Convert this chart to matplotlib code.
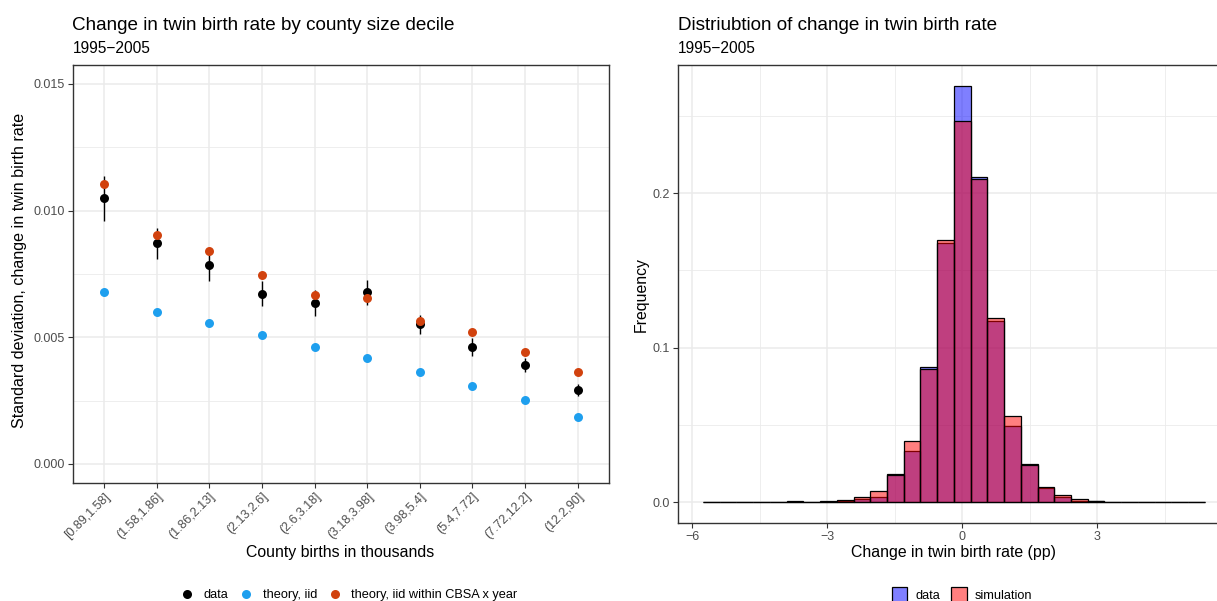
import numpy as np
import matplotlib
matplotlib.use('Agg')
import matplotlib.pyplot as plt
from matplotlib.lines import Line2D
from matplotlib.patches import Patch
from matplotlib.ticker import MultipleLocator

plt.rcParams['font.family'] = ['Liberation Sans', 'DejaVu Sans']

# left panel: sd of change in twin birth rate by county size decile
deciles = ['[0.89,1.58]', '(1.58,1.86]', '(1.86,2.13]', '(2.13,2.6]', '(2.6,3.18]',
           '(3.18,3.98]', '(3.98,5.4]', '(5.4,7.72]', '(7.72,12.2]', '(12.2,90]']
sd_data = [0.01050, 0.00872, 0.00784, 0.00672, 0.00637, 0.00677, 0.00552, 0.00460, 0.00392, 0.00292]
sd_lo = [0.00961, 0.00811, 0.00723, 0.00622, 0.00585, 0.00626, 0.00513, 0.00425, 0.00365, 0.00267]
sd_hi = [0.01135, 0.00931, 0.00845, 0.00723, 0.00688, 0.00725, 0.00589, 0.00497, 0.00418, 0.00317]
sd_iid = [0.00677, 0.00600, 0.00558, 0.00511, 0.00463, 0.00417, 0.00365, 0.00308, 0.00254, 0.00185]
sd_cbsa = [0.01105, 0.00902, 0.00842, 0.00747, 0.00668, 0.00656, 0.00563, 0.00522, 0.00443, 0.00363]

# right panel: histogram of change in twin birth rate (pp), 30 bins
bin_width = 0.3717
bin_index = np.arange(-15, 15)
freq_data = [0.0001, 0.0001, 0.0001, 0.0002, 0.0002, 0.0006, 0.0001, 0.0006, 0.0008, 0.0021,
             0.0034, 0.0181, 0.0332, 0.0877, 0.1675, 0.2694, 0.2105, 0.1175, 0.0496, 0.0246,
             0.0096, 0.0032, 0.0011, 0.0009, 0.0003, 0.0002, 0.0002, 0.0001, 0.0001, 0.0001]
freq_sim = [0.0000, 0.0000, 0.0000, 0.0001, 0.0001, 0.0000, 0.0002, 0.0003, 0.0013, 0.0032,
            0.0074, 0.0180, 0.0397, 0.0864, 0.1700, 0.2465, 0.2092, 0.1190, 0.0556, 0.0242,
            0.0101, 0.0045, 0.0019, 0.0006, 0.0002, 0.0001, 0.0001, 0.0001, 0.0000, 0.0000]

BORDER = '#333333'
GRID = '#EBEBEB'
TICKTXT = '#4D4D4D'
BLUE = '#1E9FEE'
RED = '#D1420E'

W, H = 1217, 601
fig = plt.figure(figsize=(W / 100, H / 100), dpi=100)


def style(ax):
    ax.set_axisbelow(True)
    ax.grid(which='major', color=GRID, lw=1.1)
    ax.grid(which='minor', color=GRID, lw=0.6)
    for s in ax.spines.values():
        s.set_color(BORDER)
        s.set_linewidth(1.0)
    ax.tick_params(which='major', length=3.5, width=0.8, color=BORDER,
                   labelsize=9.0, labelcolor=TICKTXT, pad=2)
    ax.tick_params(which='minor', length=0)


# ---- left panel
ax1 = fig.add_axes([72.5 / W, 1 - 483 / H, (609.3 - 72.5) / W, (483 - 65) / H])
x = np.arange(len(deciles))
ax1.vlines(x, sd_lo, sd_hi, color='black', lw=1.0, zorder=3)
ax1.scatter(x, sd_data, s=42, c='black', zorder=4, linewidths=0)
ax1.scatter(x, sd_iid, s=42, c=BLUE, zorder=5, linewidths=0)
ax1.scatter(x, sd_cbsa, s=42, c=RED, zorder=6, linewidths=0)
ax1.set_xlim(-0.6, len(deciles) - 0.4)
ax1.set_ylim(-0.00075, 0.01575)
ax1.set_xticks(x)
ax1.set_xticklabels(deciles, rotation=45, ha='right', va='top', rotation_mode='anchor')
ax1.set_yticks([0, 0.005, 0.010, 0.015])
ax1.set_yticklabels(['0.000', '0.005', '0.010', '0.015'])
ax1.yaxis.set_minor_locator(MultipleLocator(0.0025))
style(ax1)

fig.text(72.5 / W, 1 - 30 / H, 'Change in twin birth rate by county size decile',
         fontsize=13.6, va='baseline')
fig.text(72.5 / W, 1 - 53 / H, '1995\u22122005', fontsize=11.2, va='baseline')
fig.text(20 / W, 1 - 270 / H, 'Standard deviation, change in twin birth rate',
         rotation=90, fontsize=11.6, ha='center', va='center')
fig.text(340 / W, 1 - 552 / H, 'County births in thousands', fontsize=11.4,
         ha='center', va='center')

h1 = [Line2D([], [], ls='', marker='o', ms=6.5, mew=0, color=c) for c in ['black', BLUE, RED]]
fig.legend(h1, ['data', 'theory, iid', 'theory, iid within CBSA x year'], loc='center',
           bbox_to_anchor=(347 / W, 1 - 595 / H), ncol=3, frameon=False, fontsize=9.2,
           handlelength=1.6, handletextpad=0.5, columnspacing=0.6, borderpad=0)

# ---- right panel
ax2 = fig.add_axes([677.9 / W, 1 - 523.3 / H, (1230 - 677.9) / W, (523.3 - 65) / H])
centers = bin_index * bin_width
ax2.bar(centers, freq_data, width=bin_width, facecolor=(0, 0, 1, 0.5),
        edgecolor='black', linewidth=0.9, zorder=2)
ax2.bar(centers, freq_sim, width=bin_width, facecolor=(1, 0, 0, 0.5),
        edgecolor='black', linewidth=0.9, zorder=3)
ax2.set_xlim(-6.32, 5.95)
ax2.set_ylim(-0.0135, 0.2829)
ax2.set_xticks([-6, -3, 0, 3])
ax2.set_xticklabels(['\u22126', '\u22123', '0', '3'])
ax2.set_yticks([0, 0.1, 0.2])
ax2.set_yticklabels(['0.0', '0.1', '0.2'])
ax2.xaxis.set_minor_locator(MultipleLocator(1.5))
ax2.yaxis.set_minor_locator(MultipleLocator(0.05))
style(ax2)
ax2.spines['right'].set_visible(False)

fig.text(677.9 / W, 1 - 30 / H, 'Distriubtion of change in twin birth rate',
         fontsize=13.6, va='baseline')
fig.text(677.9 / W, 1 - 53 / H, '1995\u22122005', fontsize=11.2, va='baseline')
fig.text(641 / W, 1 - 294 / H, 'Frequency', rotation=90, fontsize=11.4,
         ha='center', va='center')
fig.text(953.5 / W, 1 - 552 / H, 'Change in twin birth rate (pp)', fontsize=11.4,
         ha='center', va='center')

h2 = [Patch(facecolor=(0, 0, 1, 0.5), edgecolor='black', lw=0.9),
      Patch(facecolor=(1, 0, 0, 0.5), edgecolor='black', lw=0.9)]
fig.legend(h2, ['data', 'simulation'], loc='center', bbox_to_anchor=(962 / W, 1 - 595 / H),
           ncol=2, frameon=False, fontsize=9.2, handlelength=1.2, handleheight=1.6,
           handletextpad=0.6, columnspacing=0.9, borderpad=0)

fig.savefig('out.png', dpi=100)
